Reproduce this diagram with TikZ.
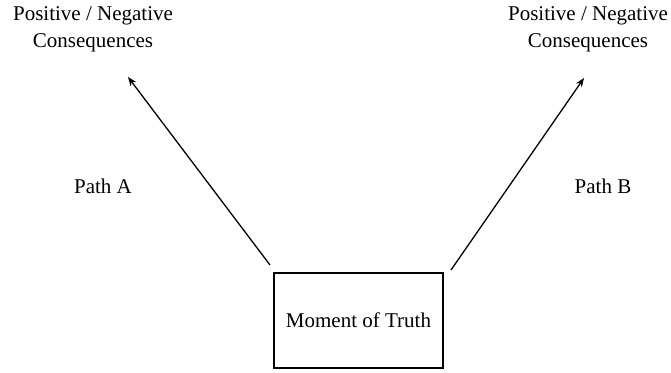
\documentclass[tikz,border=0pt]{standalone}
\usepackage{fontspec}
\setmainfont{Liberation Serif}
\usetikzlibrary{arrows.meta}
\begin{document}
\begin{tikzpicture}[x=1pt,y=-1pt,
  lbl/.style={font=\fontsize{21}{27}\selectfont, align=center, inner sep=0pt},
  box/.style={draw, line width=2.6pt, minimum width=169pt, minimum height=95pt, inner sep=0pt, font=\fontsize{21}{24}\selectfont},
  arr/.style={line width=1.3pt, -{Stealth[length=9pt,width=7pt]}}]
\useasboundingbox (0,0) rectangle (671,372);
\node[lbl] (cl) at (93,29) {Positive / Negative\\Consequences};
\node[lbl] (cr) at (588,29) {Positive / Negative\\Consequences};
\node[lbl] (pa) at (103,186) {Path A};
\node[lbl] (pb) at (603,186) {Path B};
\node[box] (mt) at (358.5,320.5) {Moment of Truth};
\coordinate (sa) at (270,265);
\coordinate (ta) at (128,77);
\coordinate (sb) at (451,270);
\coordinate (tb) at (584,78);
\draw[arr] (sa) -- (ta);
\draw[arr] (sb) -- (tb);
\end{tikzpicture}
\end{document}
